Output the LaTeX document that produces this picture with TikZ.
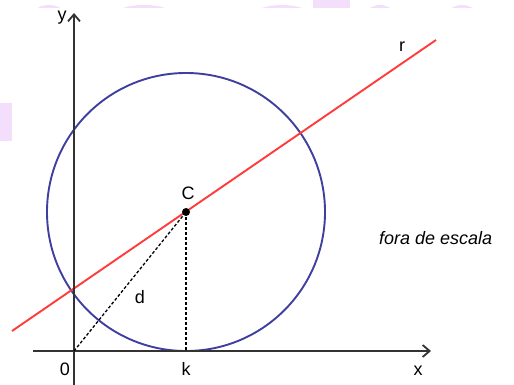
\documentclass[tikz,border=0pt]{standalone}
\usepackage{fontspec}
\setmainfont{Liberation Sans}
\usetikzlibrary{arrows.meta}
\definecolor{wm}{HTML}{F3DEFC}
\definecolor{axisc}{HTML}{333333}
\definecolor{circc}{HTML}{3F3F9F}
\definecolor{linec}{HTML}{FF3B3B}
\begin{document}
\begin{tikzpicture}[x=1pt,y=-1pt,
  axis/.style={axisc,line width=2.1pt,-{Straight Barb[length=7pt,width=12pt,line width=1.8pt]}},
  lbl/.style={font=\fontsize{18}{20}\selectfont,inner sep=0pt},
  dsh/.style={black,line width=1.3pt,dash pattern=on 3pt off 2pt}]
\useasboundingbox (0,0) rectangle (514,385);
% watermark remnants
\begin{scope}
\clip (0,0) rectangle (514,8);
\foreach \cx/\w in {49/23,144/42,282/40,380/20,462/21}
  \fill[wm] (\cx,14) ellipse ({\w/2/0.745} and 9);
\end{scope}
\fill[wm] (313,0) rectangle (350,8);
\fill[wm] (0,103) rectangle (12,141);
% coordinates
\coordinate (O) at (74,351);
\coordinate (C) at (186,212);
\coordinate (K) at (186,351);
\coordinate (ybot) at (74,385);
\coordinate (ytop) at (74,13);
\coordinate (xl) at (33,351);
\coordinate (xr) at (431,351);
\coordinate (rl) at (12,331);
\coordinate (rr) at (436,40);
% circle
\draw[circc,line width=1.9pt] (C) circle (139);
% line r
\draw[linec,line width=1.9pt] (rl) -- (rr);
% axes
\draw[axis] (ybot) -- (ytop);
\draw[axis] (xl) -- (xr);
% dashed
\draw[dsh] (O) -- (C);
\draw[dsh] (C) -- (K);
\fill (C) circle (4);
% labels
\node[lbl] (ly) at (62,18) {y};
\node[lbl] (lx) at (418,371) {x};
\node[lbl] (l0) at (65,369) {0};
\node[lbl] (lk) at (186,369) {k};
\node[lbl] (lC) at (188,193) {C};
\node[lbl] (ld) at (140,297) {d};
\node[lbl] (lr) at (402,47) {r};
\node[lbl,anchor=west] (fe) at (379,238) {\itshape fora de escala};
\end{tikzpicture}
\end{document}
